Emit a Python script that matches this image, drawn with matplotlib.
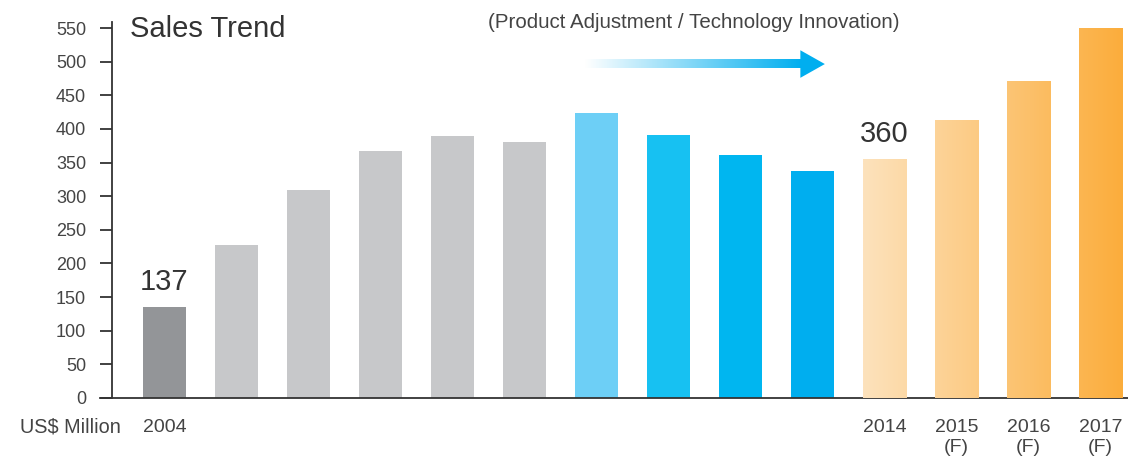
import matplotlib.pyplot as plt
import numpy as np
from matplotlib.colors import LinearSegmentedColormap

plt.rcParams["font.family"] = ["Liberation Sans", "DejaVu Sans"]

# data
years = ["2004", "2005", "2006", "2007", "2008", "2009", "2010",
         "2011", "2012", "2013", "2014", "2015", "2016", "2017"]
sales = [135, 227, 309, 367, 390, 381, 424, 391, 361, 338, 355, 412, 471, 549]
tick_labels = ["2004", "", "", "", "", "", "", "", "", "", "2014",
               "2015\n(F)", "2016\n(F)", "2017\n(F)"]
bar_colors = ["#939598", "#c7c8ca", "#c7c8ca", "#c7c8ca", "#c7c8ca", "#c7c8ca",
              "#6dcff6", "#17c1f2", "#00b6f0", "#00aeef",
              "#fddcb0", "#fbcb8a", "#fabd67", "#fab148"]
forecast_start = 10  # 2014 onwards gets the orange gradient
value_labels = {0: "137", 10: "360"}

yticks = [0, 50, 100, 150, 200, 250, 300, 350, 400, 450, 500, 550]

txt = "#333333"
fig = plt.figure(figsize=(11.28, 4.62), dpi=100)
ax = fig.add_axes([100 / 1128, 64 / 462, 1028 / 1128, 376 / 462])

x = np.arange(len(years))
bars = ax.bar(x, sales, width=0.6, color=bar_colors, zorder=2)

# horizontal orange gradient across the forecast bars
orange = LinearSegmentedColormap.from_list("orange", ["#fde2bc", "#fbad3c"])
x0 = bars[forecast_start].get_x()
x1 = bars[-1].get_x() + bars[-1].get_width()
for b in bars[forecast_start:]:
    bx, bw, bh = b.get_x(), b.get_width(), b.get_height()
    t = np.linspace((bx - x0) / (x1 - x0), (bx + bw - x0) / (x1 - x0), 64)
    ax.imshow(t[None, :], cmap=orange, vmin=0, vmax=1, aspect="auto",
              extent=(bx, bx + bw, 0, bh), zorder=3, interpolation="bilinear")
    b.set_visible(False)

for i, s in value_labels.items():
    ax.text(x[i], sales[i] + 38, s, ha="center", va="center",
            fontsize=21, color=txt)

# gradient arrow
blue = LinearSegmentedColormap.from_list("blue", ["#ffffff", "#00aeef"])
ax.imshow(np.linspace(0, 1, 256)[None, :], cmap=blue, aspect="auto",
          extent=(5.84, 8.84, 490, 503), zorder=3, clip_on=False)
ax.fill([8.83, 9.17, 8.83], [517, 496.5, 476], color="#00aeef", zorder=3,
        clip_on=False, lw=0)

ax.set_xlim(-0.896, 13.38)
ax.set_ylim(0, 559)

ax.spines["top"].set_visible(False)
ax.spines["right"].set_visible(False)
ax.spines["left"].set_position(("data", -0.729))
for sp in ("left", "bottom"):
    ax.spines[sp].set_color("#333333")
    ax.spines[sp].set_linewidth(1.3)

ax.set_yticks(yticks)
ax.set_yticklabels([str(v) for v in yticks])
ax.tick_params(axis="y", direction="out", length=8.6, width=1.3,
               color="#333333", labelsize=13, labelcolor="#444444", pad=10)
ax.set_xticks(x)
ax.set_xticklabels(tick_labels, linespacing=1.25)
ax.tick_params(axis="x", length=0, labelsize=14, labelcolor="#444444", pad=15)

fig.text(70 / 1128, 1 - 427 / 462, "US$ Million", ha="center", va="center",
         fontsize=14.3, color="#444444")
fig.text(130 / 1128, 1 - 29 / 462, "Sales Trend", ha="left", va="center",
         fontsize=21, color=txt)
fig.text(694 / 1128, 1 - 22 / 462, "(Product Adjustment / Technology Innovation)",
         ha="center", va="center", fontsize=14.8, color="#444444")

fig.savefig("out.png", dpi=100)
